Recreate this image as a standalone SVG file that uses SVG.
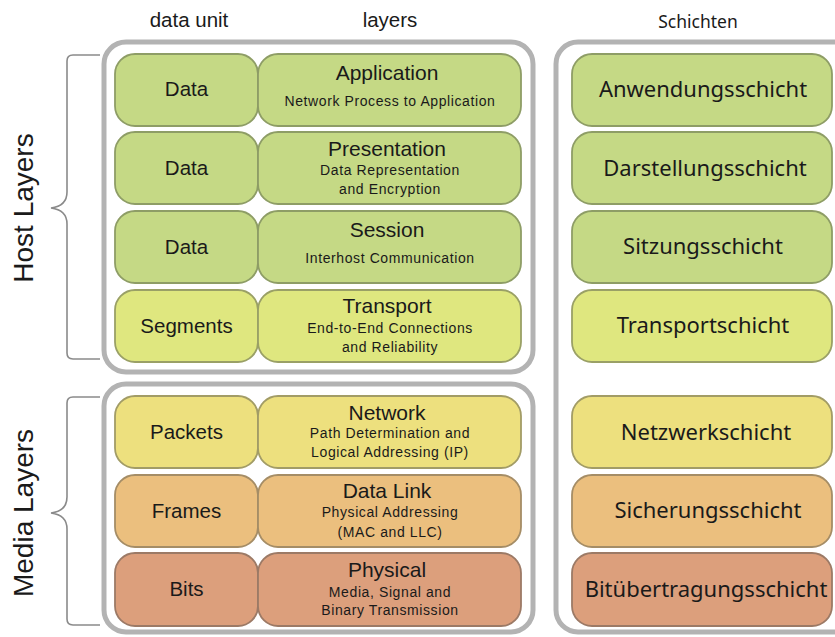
<svg xmlns="http://www.w3.org/2000/svg" width="835" height="637" viewBox="0 0 835 637">
<style>
.frame{fill:#fff;stroke:#b3b3b3;stroke-width:5}
.box{stroke-width:1.8}
.g1{fill:#c5d985;stroke:#8e9d66}
.g2{fill:#dfe77f;stroke:#9aa066}
.y{fill:#ede07e;stroke:#a29c66}
.o{fill:#ebbf7e;stroke:#a58d66}
.r{fill:#dc9f7c;stroke:#9c7a66}
.brace{fill:none;stroke:#8a8a8a;stroke-width:1.6}
.hd{font-family:"Liberation Sans",Arial,sans-serif;font-size:20.5px;fill:#1a1a1a;text-anchor:middle}
.side{font-family:"Liberation Sans",Arial,sans-serif;font-size:28px;fill:#1a1a1a;text-anchor:middle}
.du{font-family:"Liberation Sans",Arial,sans-serif;font-size:20.5px;fill:#1a1a1a;text-anchor:middle}
.tt{font-family:"Liberation Sans",Arial,sans-serif;font-size:21px;fill:#1a1a1a;text-anchor:middle}
.st{font-family:"Liberation Sans",Arial,sans-serif;font-size:14px;letter-spacing:0.6px;fill:#1a1a1a;text-anchor:middle}
.de{font-family:"Noto Sans","DejaVu Sans",sans-serif;font-size:22px;fill:#1a1a1a;text-anchor:middle}
.sch{font-family:"Noto Sans","DejaVu Sans",sans-serif;font-size:17.5px;fill:#1a1a1a;text-anchor:middle}
</style>
<rect width="835" height="637" fill="#fff"/>
<g id="headers">
<text class="hd" x="189" y="27">data unit</text>
<text class="hd" x="390" y="27">layers</text>
<text class="sch" x="698" y="28">Schichten</text>
</g>
<g id="frames">
<rect class="frame" x="104" y="42" width="429" height="330" rx="22"/>
<rect class="frame" x="104" y="384" width="429" height="248" rx="22"/>
<rect class="frame" x="556" y="42" width="300" height="590" rx="22"/>
</g>
<g id="braces">
<path class="brace" d="M100,55 L73,55 Q67,55 67,61 L67,192 Q67,206 51,208 Q67,210 67,224 L67,353 Q67,359 73,359 L100,359"/>
<text class="side" transform="translate(33,208) rotate(-90)">Host Layers</text>
<path class="brace" d="M100,397 L73,397 Q67,397 67,403 L67,497 Q67,511 51,513 Q67,515 67,529 L67,619 Q67,625 73,625 L100,625"/>
<text class="side" transform="translate(33,513) rotate(-90)">Media Layers</text>
</g>
<g id="application">
<rect class="box g1" x="115" y="54" width="143" height="72" rx="20"/>
<rect class="box g1" x="258" y="54" width="263" height="72" rx="20"/>
<text class="du" x="186.5" y="96">Data</text>
<text class="tt" x="387" y="80">Application</text>
<text class="st" x="390" y="106">Network Process to Application</text>
</g>
<g id="presentation">
<rect class="box g1" x="115" y="132" width="143" height="72" rx="20"/>
<rect class="box g1" x="258" y="132" width="263" height="72" rx="20"/>
<text class="du" x="186.5" y="175">Data</text>
<text class="tt" x="387" y="156">Presentation</text>
<text class="st" x="390" y="175">Data Representation</text>
<text class="st" x="390" y="194">and Encryption</text>
</g>
<g id="session">
<rect class="box g1" x="115" y="211" width="143" height="72" rx="20"/>
<rect class="box g1" x="258" y="211" width="263" height="72" rx="20"/>
<text class="du" x="186.5" y="254">Data</text>
<text class="tt" x="387" y="237">Session</text>
<text class="st" x="390" y="263">Interhost Communication</text>
</g>
<g id="transport">
<rect class="box g2" x="115" y="290" width="143" height="72" rx="20"/>
<rect class="box g2" x="258" y="290" width="263" height="72" rx="20"/>
<text class="du" x="186.5" y="333">Segments</text>
<text class="tt" x="387" y="313">Transport</text>
<text class="st" x="390" y="333">End-to-End Connections</text>
<text class="st" x="390" y="352">and Reliability</text>
</g>
<g id="network">
<rect class="box y" x="115" y="396" width="143" height="72" rx="20"/>
<rect class="box y" x="258" y="396" width="263" height="72" rx="20"/>
<text class="du" x="186.5" y="439">Packets</text>
<text class="tt" x="387" y="420">Network</text>
<text class="st" x="390" y="438">Path Determination and</text>
<text class="st" x="390" y="457">Logical Addressing (IP)</text>
</g>
<g id="datalink">
<rect class="box o" x="115" y="475" width="143" height="72" rx="20"/>
<rect class="box o" x="258" y="475" width="263" height="72" rx="20"/>
<text class="du" x="186.5" y="518">Frames</text>
<text class="tt" x="387" y="498">Data Link</text>
<text class="st" x="390" y="517">Physical Addressing</text>
<text class="st" x="390" y="537">(MAC and LLC)</text>
</g>
<g id="physical">
<rect class="box r" x="115" y="553" width="143" height="73" rx="20"/>
<rect class="box r" x="258" y="553" width="263" height="73" rx="20"/>
<text class="du" x="186.5" y="596">Bits</text>
<text class="tt" x="387" y="577">Physical</text>
<text class="st" x="390" y="597">Media, Signal and</text>
<text class="st" x="390" y="615">Binary Transmission</text>
</g>
<g id="schichten">
<rect class="box g1" x="572" y="54" width="260" height="72" rx="20"/>
<text class="de" x="703" y="97">Anwendungsschicht</text>
<rect class="box g1" x="572" y="132" width="260" height="72" rx="20"/>
<text class="de" x="705" y="176">Darstellungsschicht</text>
<rect class="box g1" x="572" y="211" width="260" height="72" rx="20"/>
<text class="de" x="703" y="254">Sitzungsschicht</text>
<rect class="box g2" x="572" y="290" width="260" height="72" rx="20"/>
<text class="de" x="703" y="333">Transportschicht</text>
<rect class="box y" x="572" y="396" width="260" height="72" rx="20"/>
<text class="de" x="706" y="440">Netzwerkschicht</text>
<rect class="box o" x="572" y="475" width="260" height="72" rx="20"/>
<text class="de" x="708" y="518">Sicherungsschicht</text>
<rect class="box r" x="572" y="553" width="260" height="73" rx="20"/>
<text class="de" x="706" y="597">Bitübertragungsschicht</text>
</g>
</svg>
